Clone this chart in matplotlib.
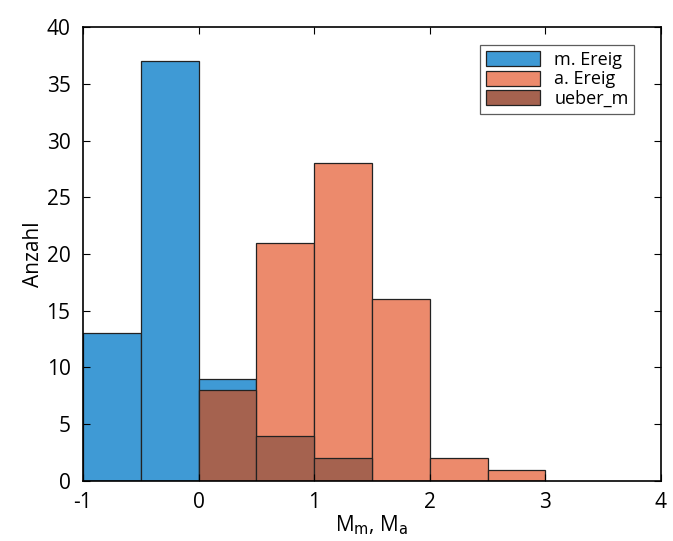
import matplotlib.pyplot as plt
import numpy as np

# Histogramm-Daten (Klassenbreite 0.5)
bin_edges = [-1, -0.5, 0, 0.5, 1, 1.5, 2, 2.5, 3]
m_ereig = [13, 37, 9, 0, 0, 0, 0, 0]
a_ereig = [0, 0, 0, 21, 28, 16, 2, 1]
ueber_m = [0, 0, 8, 4, 2, 0, 0, 0]

labels = ['m. Ereig', 'a. Ereig', 'ueber_m']
colors = ['#3f9ad5', '#ec8a6c', '#a5624f']

plt.rcParams['font.family'] = ['Open Sans', 'DejaVu Sans']
plt.rcParams['axes.unicode_minus'] = False

fig = plt.figure(figsize=(6.73, 5.41), dpi=100)
ax = fig.add_axes([0.1233, 0.111, 0.8587, 0.839])

centers = np.array(bin_edges[:-1])
for vals, lab, col in zip([m_ereig, a_ereig, ueber_m], labels, colors):
    ax.hist(centers, bins=bin_edges, weights=vals, color=col,
            edgecolor='#222222', linewidth=0.9, label=lab)

ax.set_xlim(-1, 4)
ax.set_ylim(0, 40)
ax.set_xticks([-1, 0, 1, 2, 3, 4])
ax.set_yticks(range(0, 41, 5))
ax.tick_params(direction='in', top=True, right=True, labelsize=15, length=5)
ax.tick_params(axis='y', pad=9)
ax.tick_params(axis='x', pad=8)
for s in ax.spines.values():
    s.set_linewidth(1.2)
ax.set_ylabel('Anzahl', fontsize=15, labelpad=2)
ax.set_xlabel(r'M$_{\mathrm{m}}$, M$_{\mathrm{a}}$', fontsize=15, labelpad=0)

leg = ax.legend(loc='upper right', fontsize=13, frameon=True, fancybox=False,
                edgecolor='#333333', handlelength=3.0, handleheight=0.9,
                borderaxespad=1.0, labelspacing=0.1, borderpad=0.3,
                bbox_to_anchor=(0.985, 1.0))
leg.get_frame().set_linewidth(0.9)

plt.savefig('out.png', dpi=100)
